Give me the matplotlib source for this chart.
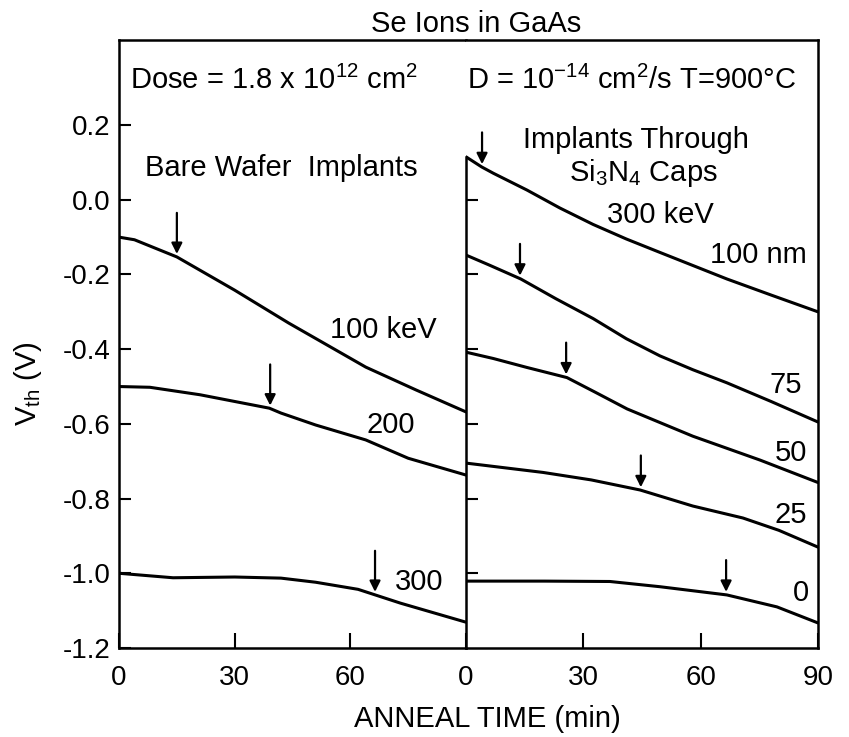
import numpy as np
import matplotlib
matplotlib.use("Agg")
import matplotlib.pyplot as plt

plt.rcParams['font.family'] = ['Liberation Sans', 'DejaVu Sans']
plt.rcParams['mathtext.fontset'] = 'custom'
plt.rcParams['mathtext.rm'] = 'Liberation Sans'
plt.rcParams['mathtext.it'] = 'Liberation Sans:italic'
plt.rcParams['mathtext.bf'] = 'Liberation Sans:bold'

# Bare wafer implants (left panel), anneal time (min) vs Vth (V)
t_100kev = [0, 4, 15, 30, 44, 64, 77, 90]
v_100kev = [-0.10, -0.107, -0.153, -0.242, -0.330, -0.448, -0.509, -0.568]
t_200kev = [0, 8, 21, 28, 39, 42, 51, 64, 75, 81, 90]
v_200kev = [-0.50, -0.502, -0.522, -0.536, -0.558, -0.571, -0.603, -0.643, -0.692, -0.71, -0.737]
t_300kev = [0, 14, 30, 42, 51, 62, 73, 81, 90]
v_300kev = [-1.0, -1.012, -1.01, -1.013, -1.024, -1.043, -1.08, -1.104, -1.131]

# Implants through Si3N4 caps, 300 keV (right panel), cap thickness in nm
t_100nm = [0, 4, 7, 15.6, 24, 32.5, 41, 49.6, 66.7, 78, 90]
v_100nm = [0.115, 0.088, 0.071, 0.026, -0.022, -0.066, -0.105, -0.141, -0.212, -0.255, -0.30]
t_75nm = [0, 6, 14, 23, 32.5, 41, 49.6, 58, 66.7, 78, 90]
v_75nm = [-0.148, -0.175, -0.212, -0.265, -0.318, -0.372, -0.418, -0.455, -0.490, -0.540, -0.595]
t_50nm = [0, 7, 15.6, 25.8, 33, 41.2, 58, 75.2, 90]
v_50nm = [-0.408, -0.425, -0.449, -0.476, -0.515, -0.560, -0.633, -0.697, -0.757]
t_25nm = [0, 19.7, 32, 44.5, 58, 70.8, 80, 90]
v_25nm = [-0.705, -0.730, -0.750, -0.777, -0.820, -0.852, -0.885, -0.93]
t_0nm = [0, 20, 36.8, 49.6, 66.7, 79.5, 90]
v_0nm = [-1.021, -1.021, -1.022, -1.036, -1.058, -1.09, -1.133]

# arrow marks (anneal time where each arrow points)
arrows_left = [15.0, 39.2, 66.4]
arrows_right = [4.1, 13.8, 25.6, 44.7, 66.5]

left_curves = [(t_100kev, v_100kev), (t_200kev, v_200kev), (t_300kev, v_300kev)]
right_curves = [(t_100nm, v_100nm), (t_75nm, v_75nm), (t_50nm, v_50nm),
                (t_25nm, v_25nm), (t_0nm, v_0nm)]

yticks = [0.2, 0.0, -0.2, -0.4, -0.6, -0.8, -1.0, -1.2]
ytick_labels = ['0.2', '0.0', '-0.2', '-0.4', '-0.6', '-0.8', '-1.0', '-1.2']

fig = plt.figure(figsize=(8.49, 7.37), dpi=100)
axl = fig.add_axes([0.1402, 0.1208, 0.4087, 0.825])
axr = fig.add_axes([0.5489, 0.1208, 0.4146, 0.825])

FS = 21
TFS = 20
LW = 2.2
ymin, ymax = -1.2, 0.428

for ax in (axl, axr):
    ax.set_xlim(0, 90)
    ax.set_ylim(ymin, ymax)
    for s in ax.spines.values():
        s.set_linewidth(1.8)

# left panel
for t, v in left_curves:
    axl.plot(t, v, color='black', lw=LW, solid_capstyle='round', solid_joinstyle='round')
axl.spines['right'].set_visible(False)
axl.set_yticks(yticks)
axl.set_yticklabels(ytick_labels)
axl.set_xticks([0, 30, 60])
axl.set_xticklabels(['0', '30', '60'])
axl.tick_params(axis='y', direction='in', length=8.5, width=1.5, pad=6, labelsize=TFS)
axl.tick_params(axis='x', direction='in', length=11, width=1.5, pad=12, labelsize=TFS)

# right panel
for t, v in right_curves:
    axr.plot(t, v, color='black', lw=LW, solid_capstyle='round', solid_joinstyle='round')
axr.spines['right'].set_visible(False)
axr.spines['left'].set_bounds(ymin, v_100nm[0])
axr.set_yticks(yticks[1:-1])
axr.set_yticklabels([])
axr.set_xticks([0, 30, 60, 90])
axr.set_xticklabels(['0', '30', '60', '90'])
axr.tick_params(axis='y', direction='in', length=8.5, width=1.5)
axr.tick_params(axis='x', direction='in', length=11, width=1.5, pad=12, labelsize=TFS)
# outer right frame
axr.plot([1, 1], [0, 1], transform=axr.transAxes, color='black', lw=1.8, clip_on=False)


def draw_arrows(ax, times, curves, length):
    for x, (t, v) in zip(times, curves):
        tip = np.interp(x, t, v) + 0.008
        ax.annotate('', xy=(x, tip), xytext=(x, tip + length),
                    arrowprops=dict(arrowstyle='-|>', color='black', lw=1.6,
                                    mutation_scale=16, shrinkA=0, shrinkB=0))


draw_arrows(axl, arrows_left, left_curves, 0.11)
draw_arrows(axr, arrows_right, right_curves, 0.085)

# curve labels
axl.text(6.7, 0.085, 'Bare Wafer  Implants', fontsize=FS, va='center', ha='left')
axl.text(54.7, -0.349, '100 keV', fontsize=FS, va='center', ha='left')
axl.text(64.3, -0.603, '200', fontsize=FS, va='center', ha='left')
axl.text(71.6, -1.024, '300', fontsize=FS, va='center', ha='left')

axr.text(43.5, 0.16, 'Implants Through', fontsize=FS, va='center', ha='center')
axr.text(45.3, 0.071, r'Si$_3$N$_4$ Caps', fontsize=FS, va='center', ha='center')
axr.text(36.1, -0.041, '300 keV', fontsize=FS, va='center', ha='left')
axr.text(62.4, -0.148, '100 nm', fontsize=FS, va='center', ha='left')
axr.text(77.7, -0.496, '75', fontsize=FS, va='center', ha='left')
axr.text(79.0, -0.678, '50', fontsize=FS, va='center', ha='left')
axr.text(79.0, -0.844, '25', fontsize=FS, va='center', ha='left')
axr.text(83.6, -1.053, '0', fontsize=FS, va='center', ha='left')

# figure-level text
fig.text(0.561, 0.968, 'Se Ions in GaAs', fontsize=FS, ha='center', va='center')
fig.text(0.153, 0.891, r'Dose = 1.8 x 10$^{12}$ cm$^2$', fontsize=FS, ha='left', va='center')
fig.text(0.550, 0.891, r'D = 10$^{-14}$ cm$^2$/s T=900°C', fontsize=FS, ha='left', va='center')
fig.text(0.033, 0.480, r'V$_{\rm th}$ (V)', fontsize=FS, ha='center', va='center', rotation=90)
fig.text(0.574, 0.025, 'ANNEAL TIME (min)', fontsize=FS, ha='center', va='center')

fig.savefig('out.png', dpi=100)
